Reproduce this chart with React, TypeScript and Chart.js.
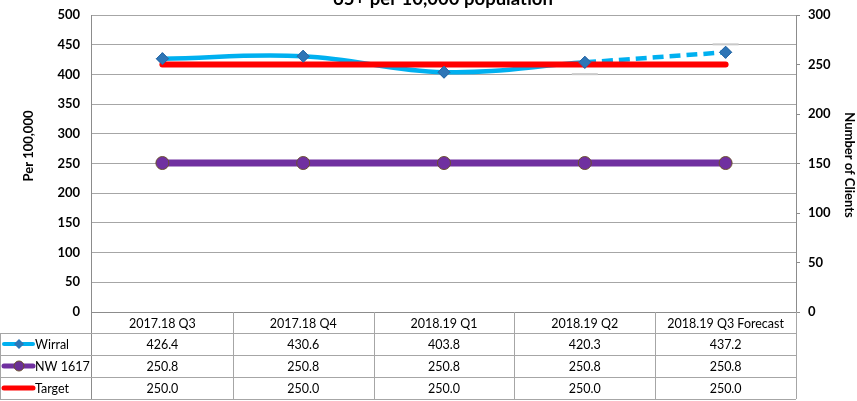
import React, { useEffect, useRef } from "react";
import { Chart, registerables } from "chart.js";

Chart.register(...registerables);

const categories = ["2017.18 Q3", "2017.18 Q4", "2018.19 Q1", "2018.19 Q2", "2018.19 Q3 Forecast"];
const wirral = [426.4, 430.6, 403.8, 420.3, 437.2];
const nw1617 = [250.8, 250.8, 250.8, 250.8, 250.8];
const target = [250.0, 250.0, 250.0, 250.0, 250.0];
const wirralCaps = [null, null, null, 400.4, 450.6];
const leftTicks = [0, 50, 100, 150, 200, 250, 300, 350, 400, 450, 500];
const rightTicks = [0, 50, 100, 150, 200, 250, 300];
const titleText = "65+ per 10,000 population";
const leftTitle = "Per 100,000";
const rightTitle = "Number of Clients";

const FONT = "Lato, 'Open Sans', sans-serif";
const CYAN = "#00b0f0";
const PURPLE = "#7030a0";
const RED = "#ff0000";
const DIAMOND = "#2e75b6";
const GRID = "#a6a6a6";

const tablePlugin = {
  id: "tablePlugin",
  afterDatasetsDraw(chart: any) {
    const ctx = chart.ctx;
    const x = chart.scales.x;
    const y = chart.scales.y;
    ctx.save();
    ctx.strokeStyle = "#c8c8c8";
    ctx.lineWidth = 2;
    wirralCaps.forEach((v, i) => {
      if (v == null) return;
      const px = x.getPixelForValue(i);
      const py = y.getPixelForValue(v);
      ctx.beginPath();
      ctx.moveTo(px - 13, py);
      ctx.lineTo(px + 13, py);
      ctx.stroke();
    });
    ctx.restore();
    const meta = chart.getDatasetMeta(0);
    meta.data.forEach((p: any) => p.draw(ctx, chart.chartArea));
  },
  afterDraw(chart: any) {
    const ctx = chart.ctx;
    const area = chart.chartArea;
    const x = chart.scales.x;
    const n = categories.length;
    const colW = (area.right - area.left) / n;
    const top = area.bottom;
    const rowH = 22;
    const headerBottom = top + 21;
    const rows = [headerBottom, headerBottom + rowH, headerBottom + 2 * rowH, headerBottom + 3 * rowH];
    ctx.save();
    ctx.lineWidth = 1;
    const hline = (x1: number, x2: number, yy: number) => {
      ctx.beginPath();
      ctx.moveTo(x1, Math.round(yy) + 0.5);
      ctx.lineTo(x2, Math.round(yy) + 0.5);
      ctx.stroke();
    };
    const vline = (xx: number, y1: number, y2: number) => {
      ctx.beginPath();
      ctx.moveTo(Math.round(xx) + 0.5, y1);
      ctx.lineTo(Math.round(xx) + 0.5, y2);
      ctx.stroke();
    };
    ctx.strokeStyle = "#8c8c8c";
    vline(area.left - 1, area.top, rows[3]);
    hline(area.left, area.right, top);
    ctx.strokeStyle = GRID;
    rows.forEach((r) => hline(0, area.right, r));
    vline(0, rows[0], rows[3]);
    for (let i = 1; i <= n; i++) {
      vline(area.left + colW * i, top, rows[3]);
    }
    ctx.fillStyle = "#000";
    ctx.font = `12.5px ${FONT}`;
    ctx.textAlign = "center";
    ctx.textBaseline = "middle";
    categories.forEach((c, i) => {
      ctx.fillText(c, x.getPixelForValue(i), (top + headerBottom) / 2 + 1);
    });
    const series = [
      { name: "Wirral", data: wirral },
      { name: "NW 1617", data: nw1617 },
      { name: "Target", data: target },
    ];
    series.forEach((s, r) => {
      const cy = (rows[r] + rows[r + 1]) / 2 + 1;
      ctx.textAlign = "center";
      ctx.fillStyle = "#000";
      s.data.forEach((v, i) => {
        ctx.fillText(v.toFixed(1), x.getPixelForValue(i), cy);
      });
      const ly = cy - 1;
      ctx.lineCap = "round";
      if (r === 0) {
        ctx.strokeStyle = CYAN;
        ctx.lineWidth = 4;
        ctx.beginPath();
        ctx.moveTo(4, ly);
        ctx.lineTo(33, ly);
        ctx.stroke();
        ctx.fillStyle = DIAMOND;
        ctx.beginPath();
        ctx.moveTo(19, ly - 5);
        ctx.lineTo(24, ly);
        ctx.lineTo(19, ly + 5);
        ctx.lineTo(14, ly);
        ctx.closePath();
        ctx.fill();
      } else if (r === 1) {
        ctx.strokeStyle = PURPLE;
        ctx.lineWidth = 5;
        ctx.beginPath();
        ctx.moveTo(4, ly);
        ctx.lineTo(33, ly);
        ctx.stroke();
        ctx.fillStyle = "#6a2f96";
        ctx.strokeStyle = "#6b5030";
        ctx.lineWidth = 1;
        ctx.beginPath();
        ctx.arc(19, ly, 5, 0, Math.PI * 2);
        ctx.fill();
        ctx.stroke();
      } else {
        ctx.strokeStyle = RED;
        ctx.lineWidth = 5;
        ctx.beginPath();
        ctx.moveTo(4, ly);
        ctx.lineTo(33, ly);
        ctx.stroke();
      }
      ctx.fillStyle = "#000";
      ctx.textAlign = "left";
      ctx.fillText(s.name, 35, cy);
    });
    ctx.fillStyle = "#000";
    ctx.font = `bold 18.5px ${FONT}`;
    ctx.textAlign = "center";
    ctx.textBaseline = "alphabetic";
    ctx.fillText(titleText, 443, 5);
    ctx.font = `bold 13px ${FONT}`;
    ctx.textBaseline = "middle";
    ctx.save();
    ctx.translate(29, 146);
    ctx.rotate(-Math.PI / 2);
    ctx.fillText(leftTitle, 0, 0);
    ctx.restore();
    ctx.save();
    ctx.translate(849, 165);
    ctx.rotate(Math.PI / 2);
    ctx.fillText(rightTitle, 0, 0);
    ctx.restore();
    ctx.restore();
  },
};

const bgPlugin = {
  id: "bgPlugin",
  beforeDraw(chart: any) {
    const ctx = chart.ctx;
    ctx.save();
    ctx.fillStyle = "#fff";
    ctx.fillRect(0, 0, chart.width, chart.height);
    ctx.restore();
  },
};

export default function App() {
  const ref = useRef<HTMLCanvasElement>(null);
  useEffect(() => {
    if (!ref.current) return;
    const chart = new Chart(ref.current, {
      type: "line",
      data: {
        labels: categories,
        datasets: [
          {
            label: "Wirral",
            data: wirral,
            yAxisID: "y",
            borderColor: CYAN,
            borderWidth: 4.5,
            tension: 0.4,
            pointStyle: "rectRot",
            pointRadius: 6,
            pointBackgroundColor: DIAMOND,
            pointBorderColor: "#2a6aa8",
            pointBorderWidth: 1,
            order: 2,
            segment: {
              borderDash: (c: any) => (c.p0DataIndex === 3 ? [11, 6] : undefined),
            },
          } as any,
          {
            label: "NW 1617",
            data: nw1617,
            yAxisID: "y",
            borderColor: PURPLE,
            borderWidth: 7,
            tension: 0,
            pointStyle: "circle",
            pointRadius: 6.5,
            pointBackgroundColor: "#7030a0",
            pointBorderColor: "#6b5030",
            pointBorderWidth: 1,
            order: 3,
          },
          {
            label: "Target",
            data: target,
            yAxisID: "y1",
            borderColor: RED,
            borderWidth: 6,
            borderCapStyle: "round",
            pointRadius: 0,
            tension: 0,
            order: 1,
          },
        ],
      },
      options: {
        responsive: false,
        animation: false,
        layout: { padding: { top: 15, bottom: 89, left: 0, right: 0 } },
        plugins: {
          legend: { display: false },
          title: { display: false },
          tooltip: { enabled: false },
        },
        scales: {
          x: {
            type: "category",
            offset: true,
            display: false,
          },
          y: {
            position: "left",
            min: 0,
            max: 500,
            afterFit: (s: any) => {
              s.width = 92;
              s.paddingTop = 0;
              s.paddingBottom = 0;
            },
            afterBuildTicks: (s: any) => {
              s.ticks = leftTicks.map((v) => ({ value: v }));
            },
            border: { display: false },
            grid: { color: GRID, drawTicks: false, lineWidth: 1 },
            ticks: {
              padding: 12,
              color: "#000",
              font: { family: FONT, size: 13, weight: "bold" },
            },
          },
          y1: {
            position: "right",
            min: 0,
            max: 300,
            afterFit: (s: any) => {
              s.width = 61;
              s.paddingTop = 0;
              s.paddingBottom = 0;
            },
            afterBuildTicks: (s: any) => {
              s.ticks = rightTicks.map((v) => ({ value: v }));
            },
            border: { display: true, color: "#8c8c8c" },
            grid: { drawOnChartArea: false, tickLength: 4, color: "#8c8c8c" },
            ticks: {
              padding: 8,
              color: "#000",
              font: { family: FONT, size: 13, weight: "bold" },
            },
          },
        },
      },
      plugins: [bgPlugin, tablePlugin],
    } as any);
    return () => chart.destroy();
  }, []);
  return (
    <div style={{ position: "absolute", left: 0, top: 0, width: 857, height: 401 }}>
      <canvas ref={ref} width={857} height={401} style={{ width: 857, height: 401, display: "block" }} />
    </div>
  );
}
